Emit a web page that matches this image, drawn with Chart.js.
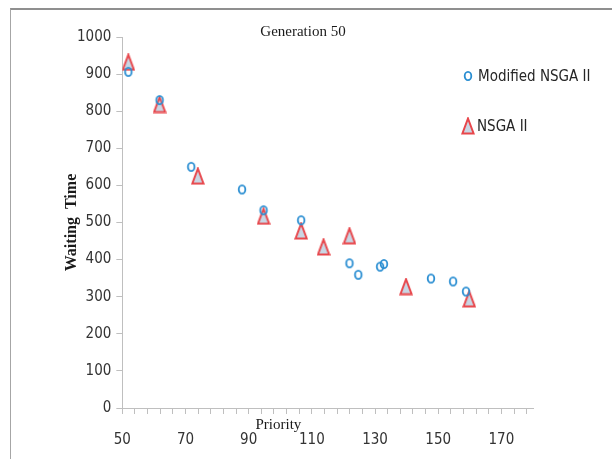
<!DOCTYPE html>
<html><head><meta charset="utf-8">
<script src="https://cdn.jsdelivr.net/npm/chart.js@4/dist/chart.umd.min.js"></script>
<style>
html,body{margin:0;padding:0;background:#fff;}
#wrap{position:relative;width:612px;height:459px;overflow:hidden;background:#fff;}
#frame{position:absolute;left:10px;top:8px;right:-4px;bottom:-4px;border-left:1px solid #a6a6a6;border-top:2px solid #8f8f8f;}
#c{position:absolute;left:0;top:0;}
.leg{position:absolute;font:15px "DejaVu Sans Condensed","Liberation Sans Narrow",sans-serif;color:#262626;white-space:nowrap;line-height:18px;}
.leg img{position:absolute;}
</style></head>
<body>
<div id="wrap">
<div id="frame"></div>
<canvas id="c" width="612" height="459"></canvas>
</div>
<script>
const seriesNames = ['Modified NSGA II', 'NSGA II'];
const modifiedPriority = [51.9, 61.8, 71.8, 87.9, 94.7, 106.6, 121.9, 124.7, 131.6, 132.8, 147.7, 154.7, 158.8];
const modifiedWaiting  = [906, 830, 650, 589, 533, 506, 390, 359, 381, 388, 349, 341, 314];
const nsgaPriority = [51.9, 61.8, 73.9, 94.7, 106.6, 113.7, 121.9, 139.8, 159.8];
const nsgaWaiting  = [932, 818, 625, 517, 477, 434, 464, 327, 294];
const xTickLabels = [50, 70, 90, 110, 130, 150, 170];
const yTickLabels = [0, 100, 200, 300, 400, 500, 600, 700, 800, 900, 1000];
const chartTitle = 'Generation 50';
const xTitle = 'Priority';
const yTitle = 'Waiting  Time';

function makeCircle(){
  const c = document.createElement('canvas'); c.width = 12; c.height = 12;
  const g = c.getContext('2d');
  g.strokeStyle = '#2a8ed2'; g.lineWidth = 1.8;
  g.beginPath(); g.ellipse(6, 6, 3.3, 4.2, 0, 0, Math.PI * 2); g.stroke();
  return c;
}
function makeTriangle(){
  const c = document.createElement('canvas'); c.width = 14; c.height = 18;
  const g = c.getContext('2d');
  g.beginPath(); g.moveTo(7, 1.5); g.lineTo(12.6, 16.5); g.lineTo(1.4, 16.5); g.closePath();
  g.fillStyle = '#c9d6e4'; g.fill();
  g.strokeStyle = '#e8464b'; g.lineWidth = 2; g.lineJoin = 'miter'; g.stroke();
  return c;
}
const circleMark = makeCircle();
const triMark = makeTriangle();

const tickFont = {family: '"DejaVu Sans Condensed","Liberation Sans Narrow",sans-serif', size: 15};
const serif = '"Liberation Serif","Times New Roman",serif';
const axisColor = '#bfbfbf';

// x-axis title, drawn like the source: between the axis line and its labels, left of centre
const xTitlePlugin = {
  id: 'xTitleInline',
  afterDraw(chart) {
    const a = chart.chartArea, ctx = chart.ctx;
    ctx.save();
    ctx.font = '15px ' + serif;
    ctx.fillStyle = '#1a1a1a';
    ctx.textAlign = 'center';
    ctx.textBaseline = 'middle';
    ctx.fillText(xTitle, a.left + (a.right - a.left) * 0.38, a.bottom + 17);
    ctx.restore();
  }
};

new Chart(document.getElementById('c'), {
  type: 'scatter',
  data: {
    datasets: [
      {label: seriesNames[0], data: modifiedPriority.map((x, i) => ({x: x, y: modifiedWaiting[i]})),
       pointStyle: circleMark, pointRadius: 5, pointHoverRadius: 5},
      {label: seriesNames[1], data: nsgaPriority.map((x, i) => ({x: x, y: nsgaWaiting[i]})),
       pointStyle: triMark, pointRadius: 7, pointHoverRadius: 7}
    ]
  },
  plugins: [xTitlePlugin],
  options: {
    responsive: false,
    animation: false,
    events: [],
    layout: {padding: {left: 73, right: 79, top: 0, bottom: -7}},
    plugins: {
      legend: {display: false},
      tooltip: {enabled: false},
      title: {display: true, text: chartTitle, color: '#1a1a1a',
              font: {family: serif, size: 15, weight: 'normal'},
              padding: {top: 23, bottom: -4}}
    },
    scales: {
      x: {
        type: 'linear', min: 50, max: 180,
        afterBuildTicks: (s) => { const t = []; for (let v = xTickLabels[0]; v < 180; v += 4) t.push({value: v}); s.ticks = t; },
        ticks: {autoSkip: false, maxRotation: 0, minRotation: 0, padding: 17, color: '#333',
                font: tickFont, callback: (v) => xTickLabels.includes(v) ? String(v) : ''},
        grid: {drawOnChartArea: false, drawTicks: true, tickLength: 6, color: axisColor},
        border: {display: true, color: axisColor}
      },
      y: {
        min: 0, max: 1000,
        afterBuildTicks: (s) => { s.ticks = yTickLabels.map(v => ({value: v})); },
        ticks: {padding: 5, color: '#333', font: tickFont, callback: (v) => String(v)},
        grid: {drawOnChartArea: false, drawTicks: true, tickLength: 6, color: axisColor},
        border: {display: true, color: axisColor},
        title: {display: true, text: yTitle, color: '#1a1a1a',
                font: {family: serif, size: 16, weight: 'bold'},
                padding: {top: -10.6, bottom: -9.6}}
      }
    }
  }
});

// legend (HTML)
const legendPos = [{x: 462, y: 67}, {x: 461, y: 117}];
const marks = [circleMark, triMark];
const wrap = document.getElementById('wrap');
seriesNames.forEach((name, i) => {
  const d = document.createElement('div');
  d.className = 'leg';
  d.style.left = legendPos[i].x + 'px';
  d.style.top = legendPos[i].y + 'px';
  const img = document.createElement('img');
  img.src = marks[i].toDataURL();
  img.style.left = '0px';
  img.style.top = (9 - marks[i].height / 2) + 'px';
  d.appendChild(img);
  const s = document.createElement('span');
  s.style.marginLeft = '16px';
  s.textContent = name;
  d.appendChild(s);
  wrap.appendChild(d);
});
</script>
</body></html>
